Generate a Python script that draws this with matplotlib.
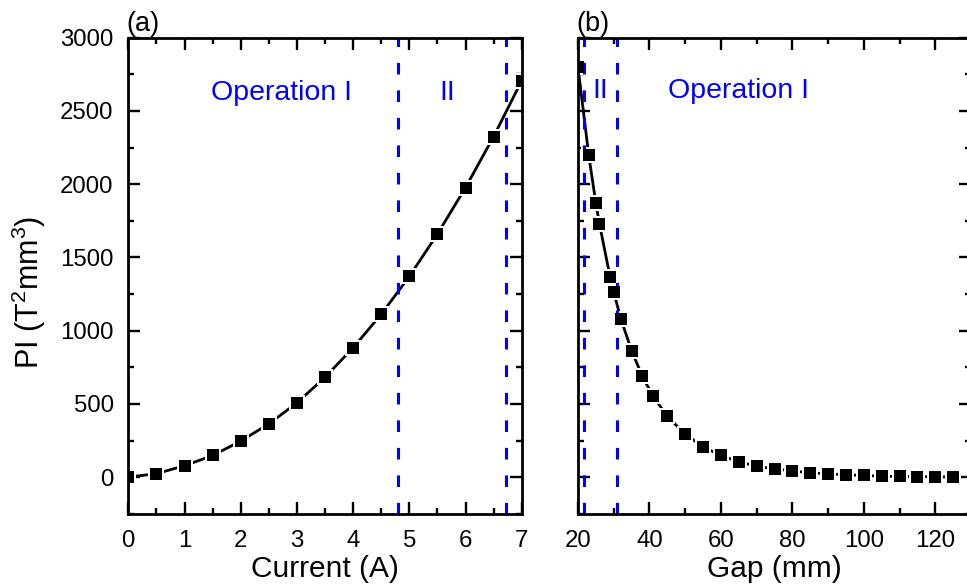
import matplotlib
matplotlib.use("Agg")
import matplotlib.pyplot as plt
from matplotlib.ticker import MultipleLocator

plt.rcParams['font.family'] = ['Liberation Sans', 'DejaVu Sans']
plt.rcParams['mathtext.fontset'] = 'custom'
plt.rcParams['mathtext.rm'] = 'Liberation Sans'
plt.rcParams['mathtext.it'] = 'Liberation Sans:italic'
plt.rcParams['mathtext.default'] = 'regular'

# ---- data ----
current = [0, 0.5, 1, 1.5, 2, 2.5, 3, 3.5, 4, 4.5, 5, 5.5, 6, 6.5, 7]
pi_current = [0, 24, 78, 148, 246, 364, 507, 682, 883, 1112, 1370, 1659, 1977, 2325, 2706]

gap = [20, 23, 25, 26, 29, 30, 32, 35, 38, 41, 45, 50, 55, 60, 65, 70, 75, 80,
       85, 90, 95, 100, 105, 110, 115, 120, 125]
pi_gap = [2800, 2198, 1871, 1730, 1364, 1264, 1080, 864, 689, 552, 416, 293, 207,
          148, 105, 75, 57, 43, 30, 23, 16, 12, 7, 5, 4, 3, 2]

bounds_current = [4.8, 6.72]
bounds_gap = [21.6, 30.8]

region_current = [("Operation I", 2.72, 2575), ("II", 5.68, 2575)]
region_gap = [("II", 26.1, 2587), ("Operation I", 64.9, 2587)]

W, H = 967, 586
fig = plt.figure(figsize=(W / 100, H / 100), dpi=100)

bottom = (H - 513.8) / H
height = (513.8 - 37.7) / H
axA = fig.add_axes([128.3 / W, bottom, (521.7 - 128.3) / W, height])
axB = fig.add_axes([578.0 / W, bottom, (971.0 - 578.0) / W, height])

BLUE = (0, 0, 1)
MS = 8.6
HALO = 11.6


def draw(ax, x, y, bounds, regions):
    # line with white halo around symbols (gap to symbol)
    ax.plot(x, y, '-', color='black', lw=2.0, marker='s', ms=HALO,
            mfc='white', mec='white', mew=0, zorder=2)
    for b in bounds:
        ax.axvline(b, color=BLUE, lw=2.2, linestyle=(0, (3.8, 5.2)), zorder=2.1)
    ax.plot(x, y, linestyle='none', marker='s', ms=MS, mfc='black', mec='black',
            mew=0, zorder=3)
    for txt, tx, ty in regions:
        ax.text(tx, ty, txt, color=BLUE, fontsize=20.5, ha='center', va='baseline')
    ax.set_ylim(-250, 3000)
    ax.yaxis.set_major_locator(MultipleLocator(500))
    ax.yaxis.set_minor_locator(MultipleLocator(250))
    ax.tick_params(which='both', direction='in', top=True, right=True, width=1.7,
                   labelsize=17.3)
    ax.tick_params(which='major', length=8.5)
    ax.tick_params(which='minor', length=4.5)
    ax.tick_params(axis='x', pad=11.5)
    ax.tick_params(axis='y', pad=10.5)
    for s in ax.spines.values():
        s.set_linewidth(2.0)


draw(axA, current, pi_current, bounds_current, region_current)
axA.set_xlim(0, 7)
axA.xaxis.set_major_locator(MultipleLocator(1))
axA.xaxis.set_minor_locator(MultipleLocator(0.5))
axA.set_xlabel('Current (A)', fontsize=21.5)
axA.xaxis.set_label_coords(0.5, -0.086)
axA.set_ylabel('PI (T$^2$mm$^3$)', fontsize=22)
axA.yaxis.set_label_coords(-0.205, 0.466)
axA.text(-0.005, 1.0147, '(a)', transform=axA.transAxes, fontsize=19.5,
         ha='left', va='baseline')

draw(axB, gap, pi_gap, bounds_gap, region_gap)
axB.set_xlim(20, 130)
axB.xaxis.set_major_locator(MultipleLocator(20))
axB.xaxis.set_minor_locator(MultipleLocator(10))
axB.tick_params(axis='y', labelleft=False)
axB.set_xlabel('Gap (mm)', fontsize=21.5)
axB.xaxis.set_label_coords(0.5, -0.086)
axB.text(-0.005, 1.0147, '(b)', transform=axB.transAxes, fontsize=19.5,
         ha='left', va='baseline')

fig.savefig('out.png', dpi=100, facecolor='white')
